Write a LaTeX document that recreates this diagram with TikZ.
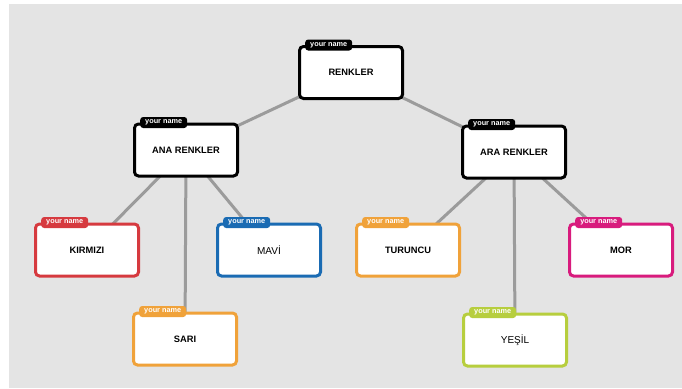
\documentclass[tikz,border=0pt]{standalone}
\usepackage{fontspec}
\setmainfont{Liberation Sans}
\usetikzlibrary{backgrounds}
\definecolor{bggray}{HTML}{E4E4E4}
\definecolor{linkgray}{HTML}{9B9B9B}
\definecolor{cred}{HTML}{D63A3F}
\definecolor{cblue}{HTML}{1A6BB3}
\definecolor{corange}{HTML}{F0A23A}
\definecolor{cgreen}{HTML}{B7CE3E}
\definecolor{cmagenta}{HTML}{D81B7D}
\definecolor{cblack}{HTML}{000000}
\tikzset{
  card/.style={draw=#1, fill=white, line width=3pt, rounded corners=4pt,
    minimum width=103pt, minimum height=52pt, inner sep=0pt,
    font=\fontsize{9.3}{11}\selectfont\bfseries},
  plaincard/.style={card=#1, font=\fontsize{10}{12}\selectfont},
  tab/.style={fill=#1, rounded corners=3pt, minimum width=47pt, minimum height=11pt,
    inner sep=0pt, text=white, font=\fontsize{7.3}{7.3}\selectfont\bfseries,
    anchor=west, xshift=7pt},
  link/.style={draw=linkgray, line width=3pt}
}
\begin{document}
\begin{tikzpicture}[x=1pt, y=-1pt]
\useasboundingbox (0,0) rectangle (682,388);

% cards
\node[card=cblack] (root) at (351,72.5) {RENKLER};
\node[card=cblack] (ana) at (186,150) {ANA RENKLER};
\node[card=cblack] (ara) at (514,152) {ARA RENKLER};
\node[card=cred] (kirmizi) at (87,250) {KIRMIZI};
\node[plaincard=cblue] (mavi) at (269,250) {MAV\.I};
\node[card=corange] (sari) at (185,339) {SARI};
\node[card=corange] (turuncu) at (408,250) {TURUNCU};
\node[plaincard=cgreen] (yesil) at (515,340) {YE\c{S}\.IL};
\node[card=cmagenta] (mor) at (621,250) {MOR};

% name tabs
\node[tab=cblack] (troot) at (root.north west) {your name};
\node[tab=cblack] (tana) at (ana.north west) {your name};
\node[tab=cblack] (tara) at (ara.north west) {your name};
\node[tab=cred] (tkirmizi) at (kirmizi.north west) {your name};
\node[tab=cblue] (tmavi) at (mavi.north west) {your name};
\node[tab=corange] (tsari) at (sari.north west) {your name};
\node[tab=corange] (tturuncu) at (turuncu.north west) {your name};
\node[tab=cgreen] (tyesil) at (yesil.north west) {your name};
\node[tab=cmagenta] (tmor) at (mor.north west) {your name};

\begin{pgfonlayer}{background}
  \fill[bggray] (9,4) rectangle (682,388);
  \draw[link] (root.center) -- (ana.center);
  \draw[link] (root.center) -- (ara.center);
  \draw[link] (ana.center) -- (kirmizi.center);
  \draw[link] (ana.center) -- (sari.center);
  \draw[link] (ana.center) -- (mavi.center);
  \draw[link] (ara.center) -- (turuncu.center);
  \draw[link] (ara.center) -- (yesil.center);
  \draw[link] (ara.center) -- (mor.center);
\end{pgfonlayer}
\end{tikzpicture}
\end{document}
